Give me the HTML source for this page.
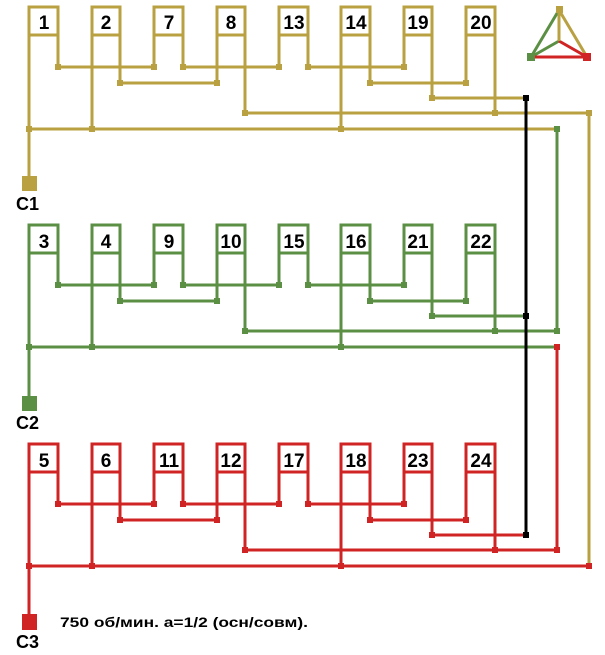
<!DOCTYPE html>
<html><head><meta charset="utf-8"><style>
html,body{margin:0;padding:0;background:#fff;width:605px;height:655px;overflow:hidden}
svg{display:block}
text{font-family:"Liberation Sans",sans-serif;font-weight:bold;fill:#000}
</style></head><body>
<svg width="605" height="655" viewBox="0 0 605 655" xmlns="http://www.w3.org/2000/svg">
<defs>
<g id="sec">
  <g fill="none" stroke-width="3">
    <path d="M29,129V7H58V67 M29,35H58"/>
    <path d="M92,129V7H120V83 M92,35H120"/>
    <path d="M154,67V7H183V67 M154,35H183"/>
    <path d="M217,83V7H245V113 M217,35H245"/>
    <path d="M279,67V7H308V67 M279,35H308"/>
    <path d="M341,129V7H370V83 M341,35H370"/>
    <path d="M404,67V7H432V98 M404,35H432"/>
    <path d="M466,83V7H495V113 M466,35H495"/>
    <path d="M58,67H154 M183,67H279 M308,67H404 M120,83H217 M370,83H466 M432,98H526"/>
  </g>
  <g stroke="none">
    <rect x="55" y="64" width="6" height="6"/><rect x="151" y="64" width="6" height="6"/>
    <rect x="180" y="64" width="6" height="6"/><rect x="276" y="64" width="6" height="6"/>
    <rect x="305" y="64" width="6" height="6"/><rect x="401" y="64" width="6" height="6"/>
    <rect x="117" y="80" width="6" height="6"/><rect x="214" y="80" width="6" height="6"/>
    <rect x="367" y="80" width="6" height="6"/><rect x="463" y="80" width="6" height="6"/>
    <rect x="429" y="95" width="6" height="6"/>
    <rect x="242" y="110" width="6" height="6"/><rect x="492" y="110" width="6" height="6"/>
    <rect x="26" y="126" width="6" height="6"/><rect x="89" y="126" width="6" height="6"/>
    <rect x="338" y="126" width="6" height="6"/>
  </g>
</g>
</defs>

<g stroke="#b9a041" fill="#b9a041">
  <use href="#sec"/>
  <path d="M245,113H589V566 M29,129H557 M29,129V180" fill="none" stroke-width="3"/>
  <rect x="586" y="110" width="6" height="6" stroke="none"/>
  <rect x="22" y="176" width="15" height="15" stroke="none"/>
</g>
<g stroke="#5b8f44" fill="#5b8f44">
  <g transform="translate(0,218)"><use href="#sec"/></g>
  <path d="M557,129V331 M245,331H557 M29,347H557 M29,347V398" fill="none" stroke-width="3"/>
  <rect x="554" y="126" width="6" height="6" stroke="none"/>
  <rect x="554" y="328" width="6" height="6" stroke="none"/>
  <rect x="22" y="396" width="15" height="15" stroke="none"/>
</g>
<g stroke="#d02323" fill="#d02323">
  <g transform="translate(0,437)"><use href="#sec"/></g>
  <path d="M557,347V550 M245,550H557 M29,566H589 M29,566V616" fill="none" stroke-width="3"/>
  <rect x="554" y="344" width="6" height="6" stroke="none"/>
  <rect x="554" y="547" width="6" height="6" stroke="none"/>
  <rect x="586" y="563" width="6" height="6" stroke="none"/>
  <rect x="22" y="614" width="15" height="16" stroke="none"/>
</g>
<g stroke="#000" fill="#000">
  <path d="M526,98V535" stroke-width="3" fill="none"/>
  <rect x="523" y="95" width="6" height="6" stroke="none"/>
  <rect x="523" y="313" width="6" height="6" stroke="none"/>
  <rect x="523" y="532" width="6" height="6" stroke="none"/>
</g>

<g stroke-width="3">
  <line x1="559" y1="10" x2="531" y2="57" stroke="#5b8f44"/>
  <line x1="531" y1="57" x2="559" y2="41" stroke="#5b8f44"/>
  <line x1="531" y1="57" x2="587" y2="57" stroke="#d02323"/>
  <line x1="559" y1="41" x2="587" y2="57" stroke="#d02323"/>
  <line x1="559" y1="10" x2="559" y2="41" stroke="#b9a041"/>
  <line x1="559" y1="10" x2="587" y2="57" stroke="#b9a041"/>
  <rect x="556" y="6" width="7" height="7" fill="#b9a041"/>
  <rect x="527" y="53" width="8" height="8" fill="#5b8f44"/>
  <rect x="583" y="53" width="8" height="8" fill="#d02323"/>
</g>

<g font-size="19" text-anchor="middle">
  <text x="44" y="29">1</text><text x="106" y="29">2</text><text x="169" y="29">7</text><text x="231" y="29">8</text>
  <text x="294" y="29">13</text><text x="356" y="29">14</text><text x="418" y="29">19</text><text x="481" y="29">20</text>
  <text x="44" y="248">3</text><text x="106" y="248">4</text><text x="169" y="248">9</text><text x="231" y="248">10</text>
  <text x="294" y="248">15</text><text x="356" y="248">16</text><text x="418" y="248">21</text><text x="481" y="248">22</text>
  <text x="44" y="467">5</text><text x="106" y="467">6</text><text x="169" y="467">11</text><text x="231" y="467">12</text>
  <text x="294" y="467">17</text><text x="356" y="467">18</text><text x="418" y="467">23</text><text x="481" y="467">24</text>
</g>
<g font-size="18">
  <text x="16" y="210">C1</text>
  <text x="16" y="429">C2</text>
  <text x="16" y="648">C3</text>
</g>
<text x="60" y="627" font-size="14" textLength="248" lengthAdjust="spacingAndGlyphs">750 об/мин. a=1/2 (осн/совм).</text>
</svg>
</body></html>
